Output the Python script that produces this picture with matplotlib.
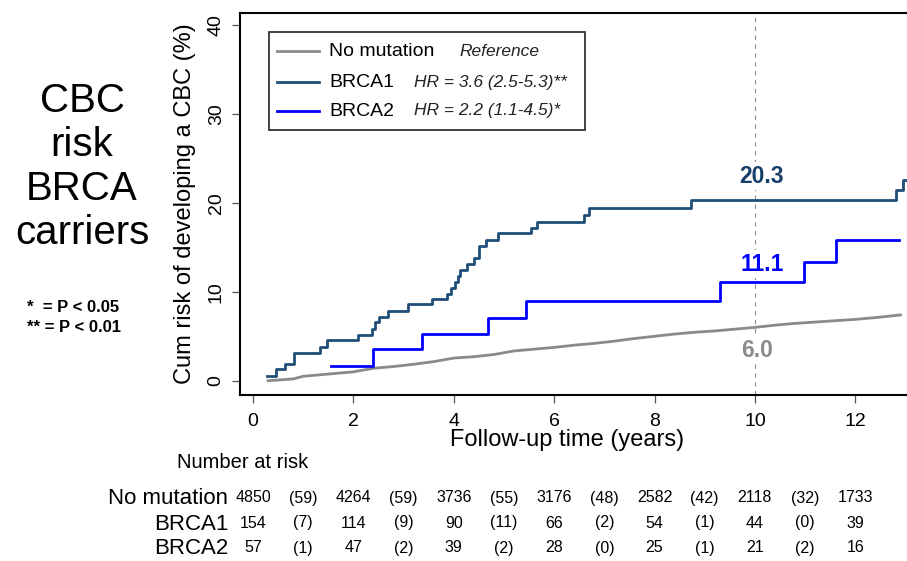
import matplotlib
matplotlib.use("Agg")
import matplotlib.pyplot as plt
import matplotlib.transforms as mtransforms
from matplotlib.lines import Line2D
from matplotlib.patches import Rectangle

plt.rcParams["font.family"] = ["Liberation Sans", "DejaVu Sans"]

# Kaplan-Meier style cumulative risk curves (years, cum risk %)
nomut_t = [0.30, 0.80, 1.00, 1.30, 1.60, 2.00, 2.40, 2.80, 3.20, 3.60, 4.00, 4.40,
           4.80, 5.20, 5.60, 6.00, 6.40, 6.80, 7.20, 7.60, 8.00, 8.40, 8.80, 9.20,
           9.60, 10.00, 10.40, 10.80, 11.20, 11.60, 12.00, 12.40, 12.90]
nomut_y = [0.00, 0.20, 0.50, 0.65, 0.80, 1.00, 1.40, 1.60, 1.85, 2.15, 2.55, 2.70,
           2.95, 3.35, 3.55, 3.75, 4.00, 4.20, 4.45, 4.75, 5.00, 5.25, 5.45, 5.60,
           5.80, 6.00, 6.25, 6.45, 6.60, 6.75, 6.90, 7.10, 7.40]

brca1_t = [0.27, 0.45, 0.63, 0.82, 1.33, 1.47, 2.09, 2.38, 2.42, 2.51, 2.68, 3.09,
           3.57, 3.87, 3.95, 4.03, 4.09, 4.13, 4.26, 4.40, 4.50, 4.64, 4.88, 5.53,
           5.66, 6.59, 6.69, 8.73, 12.82, 12.95, 13.10]
brca1_y = [0.53, 1.28, 1.88, 3.15, 3.76, 4.58, 5.14, 5.78, 6.64, 7.20, 7.84, 8.63,
           9.16, 9.76, 10.47, 11.07, 11.80, 12.50, 13.10, 13.80, 15.10, 15.80, 16.60, 17.20,
           17.90, 18.65, 19.40, 20.30, 21.40, 22.60, 22.60]

brca2_t = [1.56, 2.39, 3.37, 4.68, 5.43, 9.31, 10.97, 11.61, 12.88]
brca2_y = [1.65, 3.53, 5.26, 7.09, 8.97, 11.10, 13.30, 15.80, 15.80]

# 10-year risk labels
risk10_labels = ["20.3", "11.1", "6.0"]
risk10_pos = [(10.13, 23.0), (10.15, 13.1), (10.05, 3.45)]

# number at risk table
risk_years = [0, 2, 4, 6, 8, 10, 12]
event_years = [1, 3, 5, 7, 9, 11]
groups = ["No mutation", "BRCA1", "BRCA2"]
at_risk = [
    [4850, 4264, 3736, 3176, 2582, 2118, 1733],
    [154, 114, 90, 66, 54, 44, 39],
    [57, 47, 39, 28, 25, 21, 16],
]
events = [
    [59, 59, 55, 48, 42, 32],
    [7, 9, 11, 2, 1, 0],
    [1, 2, 2, 0, 1, 2],
]

legend_names = ["No mutation", "BRCA1", "BRCA2"]
legend_hr = ["Reference", "HR = 3.6 (2.5-5.3)**", "HR = 2.2 (1.1-4.5)*"]

C_GRAY = "#8a8a8a"
C_B1 = "#1f4e79"
C_B1_TXT = "#173f6b"
C_B2 = "#0000ff"
colors = [C_GRAY, C_B1, C_B2]
label_colors = [C_B1_TXT, C_B2, C_GRAY]

W, H = 907, 561


def fx(px):
    return px / W


def fy(py):
    return 1 - py / H


fig = plt.figure(figsize=(W / 100, H / 100), dpi=100)
ax = fig.add_axes([fx(240), fy(394.5), fx(912) - fx(240), fy(12.7) - fy(394.5)])

# no-mutation curve has many tiny steps, drawn as a line through the read points
ax.plot(nomut_t, nomut_y, color=C_GRAY, lw=2, zorder=3)
ax.plot(brca1_t, brca1_y, drawstyle="steps-post", color=C_B1, lw=2, zorder=4)
ax.plot(brca2_t, brca2_y, drawstyle="steps-post", color=C_B2, lw=2, zorder=4)

ax.axvline(10, color="#8c8c8c", lw=0.8, ls=(0, (4, 4)), zorder=1)

for txt, (x, y), c in zip(risk10_labels, risk10_pos, label_colors):
    ax.text(x, y, txt, color=c, fontsize=16.5, fontweight="bold", ha="center", va="center",
            zorder=5, bbox=dict(boxstyle="square,pad=0.1", fc="white", ec="none"))

ax.set_xlim(-0.26, 13.13)
ax.set_ylim(-1.55, 41.4)
ax.set_xticks(range(0, 13, 2))
ax.set_yticks(range(0, 41, 10))
ax.tick_params(direction="out", length=6, width=0.9, color="#555555",
               labelsize=14, pad=7)
ax.tick_params(axis="y", pad=5)
for lbl in ax.get_yticklabels():
    lbl.set_rotation(90)
    lbl.set_va("center")

for s in ["left", "bottom", "top"]:
    ax.spines[s].set_linewidth(1.5)
    ax.spines[s].set_color("black")
ax.spines["right"].set_visible(False)

fig.text(fx(185.5), fy(203.5), "Cum risk of developing a CBC (%)", rotation=90,
         ha="center", va="center", fontsize=17)
fig.text(fx(567), fy(440), "Follow-up time (years)", ha="center", va="center", fontsize=17)

# legend drawn by hand (two text columns)
fig.add_artist(Rectangle((fx(269), fy(130)), fx(585) - fx(269), fy(31.7) - fy(130),
                         transform=fig.transFigure, fc="white", ec="#333333", lw=1.3))
legend_rows = [51, 82.3, 111]
hr_x = [459, 414, 414]
for name, hr, c, ry, hx in zip(legend_names, legend_hr, colors, legend_rows, hr_x):
    fig.add_artist(Line2D([fx(277), fx(319)], [fy(ry), fy(ry)], color=c, lw=2,
                          transform=fig.transFigure))
    fig.text(fx(329), fy(ry), name, ha="left", va="center", fontsize=14)
    fig.text(fx(hx), fy(ry), hr, ha="left", va="center", fontsize=12.5,
             style="italic", color="#222222")

# left title
fig.text(fx(82), fy(167), "CBC\nrisk\nBRCA\ncarriers", ha="center", va="center",
         fontsize=29, linespacing=1.2)
fig.text(fx(27), fy(307), "*  = P < 0.05", ha="left", va="center", fontsize=12,
         fontweight="bold")
fig.text(fx(27), fy(327), "** = P < 0.01", ha="left", va="center", fontsize=12,
         fontweight="bold")

# number at risk table
trans = mtransforms.blended_transform_factory(ax.transData, fig.transFigure)
fig.text(fx(176.7), fy(463), "Number at risk", ha="left", va="center", fontsize=14.5)
row_y = [499, 524, 549]
for g, ry, ar, ev in zip(groups, row_y, at_risk, events):
    fig.text(fx(228), fy(ry), g, ha="right", va="center", fontsize=16)
    for yr, n in zip(risk_years, ar):
        ax.text(yr, fy(ry - 1), str(n), transform=trans, ha="center", va="center",
                fontsize=11.5, clip_on=False)
    for yr, n in zip(event_years, ev):
        ax.text(yr, fy(ry - 1), f"({n})", transform=trans, ha="center", va="center",
                fontsize=11.5, clip_on=False)

fig.savefig("out.png", dpi=100)
